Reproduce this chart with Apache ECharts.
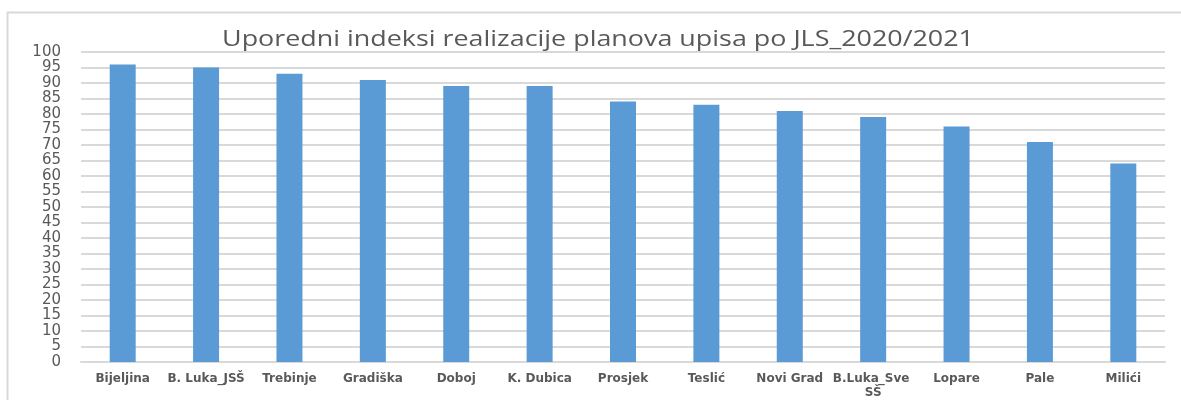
<!DOCTYPE html>
<html>
<head>
<meta charset="utf-8">
<script src="https://cdn.jsdelivr.net/npm/echarts@6/dist/echarts.min.js"></script>
<style>
  html, body { margin: 0; padding: 0; background: #fff; }
  #chart { width: 1181px; height: 400px; }
</style>
</head>
<body>
<div id="chart"></div>
<script>
const categories = ['Bijeljina', 'B. Luka_JSŠ', 'Trebinje', 'Gradiška', 'Doboj', 'K. Dubica',
  'Prosjek', 'Teslić', 'Novi Grad', 'B.Luka_Sve SŠ', 'Lopare', 'Pale', 'Milići'];
const values = [96, 95, 93, 91, 89, 89, 84, 83, 81, 79, 76, 71, 64];
const titleText = 'Uporedni indeksi realizacije planova upisa po JLS_2020/2021';

var chartDom = document.getElementById('chart');
var myChart = echarts.init(chartDom, null, { renderer: 'canvas' });
var option;

option = {
  backgroundColor: '#fff',
  animation: false,
  graphic: [
    // chart area border
    {
      type: 'rect',
      shape: { x: 7.5, y: 12.5, width: 1200, height: 400 },
      style: { fill: 'none', stroke: '#d9d9d9', lineWidth: 2 },
      silent: true,
    },
    // title, a bit stretched like the original
    {
      type: 'text',
      x: 598,
      y: 40,
      scaleX: 1.28,
      silent: true,
      style: {
        text: titleText,
        x: 0,
        y: 0,
        align: 'center',
        verticalAlign: 'middle',
        fontFamily: 'Open Sans',
        fontSize: 21,
        fill: '#595959',
      },
    },
  ],
  grid: { left: 81, right: 16, top: 52, bottom: 38 },
  xAxis: {
    type: 'category',
    data: categories,
    axisLine: { lineStyle: { color: '#d9d9d9', width: 2 } },
    axisTick: { show: false },
    axisLabel: {
      interval: 0,
      color: '#595959',
      fontFamily: 'DejaVu Sans',
      fontWeight: 'bold',
      fontSize: 12,
      margin: 10,
      width: 82,
      overflow: 'break',
      lineHeight: 14,
    },
  },
  yAxis: {
    type: 'value',
    min: 0,
    max: 100,
    interval: 5,
    axisLine: { show: false },
    axisTick: { show: false },
    axisLabel: {
      color: '#595959',
      fontFamily: 'DejaVu Sans',
      fontSize: 15,
      lineHeight: 14,
      margin: 20,
    },
    splitLine: { lineStyle: { color: '#d9d9d9', width: 2 } },
  },
  series: [
    {
      type: 'bar',
      data: values,
      barWidth: 26,
      itemStyle: { color: '#5b9bd5' },
    },
  ],
};

option && myChart.setOption(option);
</script>
</body>
</html>
